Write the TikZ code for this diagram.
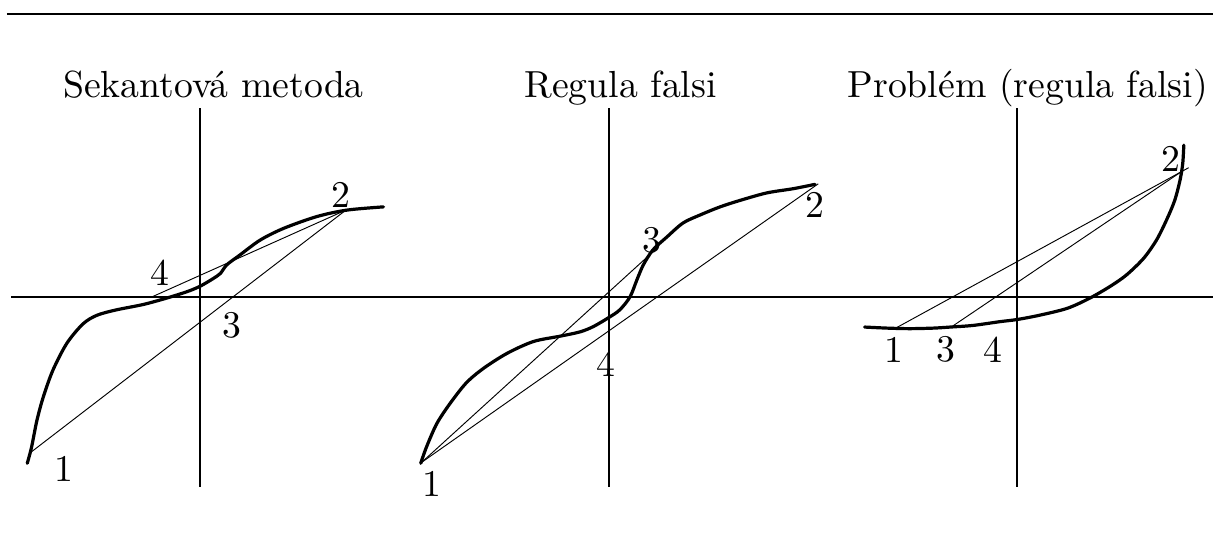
\documentclass[tikz,border=0pt]{standalone}
\usetikzlibrary{positioning,calc}
\tikzset{
  axis/.style={line width=0.35pt},
  fn/.style={line width=0.85pt, line cap=round, line join=round},
  sec/.style={line width=0.25pt},
  num/.style={inner sep=0pt},
}
\newcommand{\axes}{\draw[axis] (0,-1.77) -- (0,1.76);}

\begin{document}
\begin{tikzpicture}
  \useasboundingbox (0,0) rectangle (11.305,-5.014);
  \draw[line width=0.55pt] (0.065,-0.130) -- (11.305,-0.130);
  \draw[axis] (0.103,-2.768) -- (11.305,-2.768);
  % ------------------------------------------------------------------ (a) secant
  \begin{scope}[shift={(1.864,-2.768)}]
    \axes
    \node[anchor=base] (ta) at (0.126,1.855) {Sekantová metoda};
    \draw[fn] plot[smooth] coordinates {(-1.61,-1.55) (-1.57,-1.40) (-1.52,-1.15) (-1.46,-0.93)
      (-1.37,-0.68) (-1.24,-0.43) (-1.09,-0.25) (-0.96,-0.17) (-0.78,-0.12) (-0.53,-0.07)
      (-0.31,-0.01) (-0.12,0.05) (0,0.10) (0.12,0.17) (0.19,0.22) (0.25,0.30) (0.37,0.39)
      (0.56,0.53) (0.78,0.64) (1.09,0.75) (1.37,0.81) (1.71,0.84)};
    \coordinate (a1) at (-1.58,-1.45);
    \coordinate (a2) at (1.36,0.81);
    \coordinate (a4) at (-0.45,0);
    \draw[sec] (a1) -- (a2);
    \draw[sec] (a2) -- (a4);
    \node[num] (la1) at (-1.27,-1.60) {1};
    \node[num] (la2) at (1.31,0.95) {2};
    \node[num] (la3) at (0.30,-0.26) {3};
    \node[num] (la4) at (-0.37,0.23) {4};
  \end{scope}
  % ------------------------------------------------------------------ (b) regula falsi
  \begin{scope}[shift={(5.676,-2.768)}]
    \axes
    \node[anchor=base] (tb) at (0.107,1.855) {Regula falsi};
    \draw[fn] plot[smooth] coordinates {(-1.755,-1.55) (-1.70,-1.395) (-1.605,-1.18) (-1.48,-0.99)
      (-1.33,-0.80) (-1.17,-0.665) (-0.95,-0.525) (-0.705,-0.415) (-0.455,-0.365) (-0.27,-0.325)
      (-0.145,-0.275) (0,-0.19) (0.10,-0.12) (0.195,0) (0.26,0.16) (0.32,0.30) (0.41,0.44)
      (0.54,0.56) (0.69,0.69) (0.85,0.765) (1.035,0.84) (1.22,0.90) (1.47,0.97) (1.72,1.01)
      (1.92,1.05)};
    \coordinate (b1) at (-1.745,-1.54);
    \coordinate (b2) at (1.95,1.055);
    \coordinate (b3) at (0.43,0.44);
    \draw[sec] (b1) -- (b2);
    \draw[sec] (b1) -- (b3);
    \node[num] (lb1) at (-1.65,-1.74) {1};
    \node[num] (lb2) at (1.92,0.86) {2};
    \node[num] (lb3) at (0.40,0.53) {3};
    \node[num] (lb4) at (-0.03,-0.62) {4};
  \end{scope}
  % ------------------------------------------------------------------ (c) problem
  \begin{scope}[shift={(9.478,-2.768)}]
    \axes
    \node[anchor=base] (tc) at (0.10,1.855) {Problém (regula falsi)};
    \draw[fn] plot[smooth] coordinates {(-1.42,-0.28) (-1.21,-0.29) (-1.00,-0.295) (-0.78,-0.29)
      (-0.62,-0.28) (-0.41,-0.265) (-0.16,-0.23) (0,-0.21) (0.21,-0.17) (0.47,-0.105)
      (0.68,-0.01) (0.87,0.10) (1.02,0.205) (1.18,0.36) (1.30,0.53) (1.395,0.72) (1.47,0.90)
      (1.52,1.09) (1.545,1.245) (1.555,1.415)};
    \coordinate (c1) at (-1.13,-0.29);
    \coordinate (c2) at (1.535,1.17);
    \coordinate (c2e) at (1.60,1.205);
    \coordinate (c3) at (-0.62,-0.285);
    \draw[sec] (c1) -- (c2e);
    \draw[sec] (c3) -- (c2);
    \node[num] (lc1) at (-1.15,-0.49) {1};
    \node[num] (lc2) at (1.435,1.29) {2};
    \node[num] (lc3) at (-0.665,-0.49) {3};
    \node[num] (lc4) at (-0.225,-0.49) {4};
  \end{scope}
\end{tikzpicture}
\end{document}
